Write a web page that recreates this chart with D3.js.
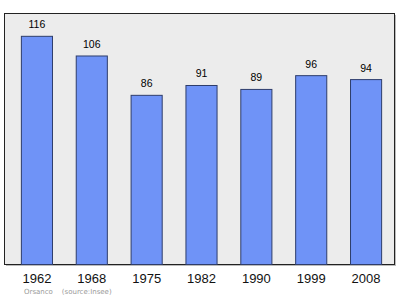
<!DOCTYPE html>
<html><head><meta charset="utf-8">
<script src="https://cdn.jsdelivr.net/npm/d3@7"></script>
<style>body{margin:0;background:#fff}svg{display:block}</style>
</head><body>
<svg id="c" width="400" height="299"></svg>
<script>
const years = ["1962","1968","1975","1982","1990","1999","2008"];
const population = [116,106,86,91,89,96,94];
const sourceLabel = "Orsanco    (source:Insee)";

const svg = d3.select("#c");
const frame = {left:4.5, top:13.5, right:394.5, bottom:264.5};

const x = d3.scaleBand().domain(years).range([9, 393]).paddingInner(0.433).paddingOuter(0.2165);
const y = d3.scaleLinear().domain([0, 127.6]).range([264.5, 13.5]);

// shadow
svg.append("rect").attr("x", frame.left+1.5).attr("y", frame.top+1.5)
  .attr("width", frame.right-frame.left).attr("height", frame.bottom-frame.top)
  .attr("fill", "#bbb");
svg.append("rect").attr("x", frame.left).attr("y", frame.top)
  .attr("width", frame.right-frame.left).attr("height", frame.bottom-frame.top)
  .attr("fill", "#ececec").attr("stroke", "#222").attr("stroke-width", 1);

svg.append("g").selectAll("rect").data(years).join("rect")
  .attr("x", d => x(d)+0.5)
  .attr("y", (d,i) => y(population[i]))
  .attr("width", x.bandwidth())
  .attr("height", (d,i) => y(0) - y(population[i]))
  .attr("fill", "#6f93f7")
  .attr("stroke", "#2e3d6b").attr("stroke-width", 1);

svg.append("g").selectAll("text").data(years).join("text")
  .attr("x", d => x(d) + x.bandwidth()/2 + 0.5)
  .attr("y", (d,i) => y(population[i]) - 8)
  .attr("text-anchor", "middle")
  .attr("font-family", "Liberation Sans, Arial, sans-serif")
  .attr("font-size", 10.5).attr("fill", "#000")
  .text((d,i) => population[i]);

const xAxis = d3.axisBottom(x).tickSize(0).tickPadding(8);
const gx = svg.append("g").attr("transform", `translate(0.5,${frame.bottom})`).call(xAxis);
gx.select(".domain").remove();
gx.selectAll("text").attr("font-family", "Liberation Sans, Arial, sans-serif")
  .attr("font-size", 13).attr("fill", "#111").attr("dy", "0.82em");

svg.append("text").attr("x", 24).attr("y", 294)
  .attr("font-family", "DejaVu Sans, sans-serif").attr("font-size", 7)
  .attr("fill", "#999").attr("xml:space", "preserve").style("white-space", "pre")
  .text(sourceLabel);
</script>
</body></html>
